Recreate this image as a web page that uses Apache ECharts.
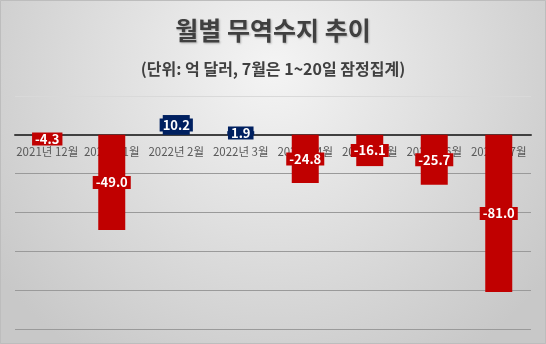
<!DOCTYPE html>
<html>
<head>
<meta charset="utf-8">
<script src="https://cdn.jsdelivr.net/npm/echarts@6/dist/echarts.min.js"></script>
<style>
  html, body { margin: 0; padding: 0; }
  #chart { width: 546px; height: 344px; }
</style>
</head>
<body>
<div id="chart"></div>
<script>
// Monthly trade balance (unit: 100 million USD)
const months = ['2021년 12월', '2022년 1월', '2022년 2월', '2022년 3월', '2022년 4월', '2022년 5월', '2022년 6월', '2022년 7월'];
const balance = [-4.3, -49.0, 10.2, 1.9, -24.8, -16.1, -25.7, -81.0];
const yMin = -100, yMax = 20, yStep = 20;

const RED = '#c00000';
const NAVY = '#002060';

const barData = balance.map(v => {
  const c = v < 0 ? RED : NAVY;
  return {
    value: v,
    itemStyle: { color: c },
    label: { backgroundColor: c }
  };
});

const W = 546, H = 344;
const grid = { left: 15, right: 15, top: 96, bottom: 15 };
// shift the category axis (line + labels) up to the zero value
const plotH = H - grid.top - grid.bottom;
const zeroOffset = -((0 - yMin) / (yMax - yMin)) * plotH;

const chart = echarts.init(document.getElementById('chart'));
chart.setOption({
  backgroundColor: {
    type: 'radial', x: 0.5, y: 0.2, r: 1.0,
    colorStops: [
      { offset: 0, color: '#f4f4f4' },
      { offset: 1, color: '#c8c8c8' }
    ]
  },
  title: {
    text: '월별 무역수지 추이',
    subtext: '(단위: 억 달러, 7월은 1~20일 잠정집계)',
    left: 'center',
    top: 13,
    itemGap: 18,
    textStyle: {
      fontFamily: 'Noto Sans CJK KR',
      fontSize: 25,
      fontWeight: 'bold',
      color: '#404040',
      textShadowColor: 'rgba(0,0,0,0.25)',
      textShadowBlur: 2,
      textShadowOffsetX: 1,
      textShadowOffsetY: 1
    },
    subtextStyle: {
      fontFamily: 'Noto Sans CJK KR',
      fontSize: 16,
      fontWeight: 'bold',
      color: '#404040'
    }
  },
  graphic: [{
    type: 'rect',
    shape: { x: 0.5, y: 0.5, width: W - 1, height: H - 1 },
    style: { fill: 'none', stroke: '#bdbdbd', lineWidth: 1 },
    silent: true
  }],
  grid: grid,
  xAxis: {
    type: 'category',
    data: months,
    offset: zeroOffset,
    axisLine: { onZero: false, lineStyle: { color: '#404040', width: 2 } },
    axisTick: { show: false },
    axisLabel: {
      interval: 0,
      margin: 11,
      fontFamily: 'Noto Sans CJK KR',
      fontSize: 11.5,
      color: '#595959'
    }
  },
  yAxis: {
    type: 'value',
    min: yMin,
    max: yMax,
    interval: yStep,
    axisLine: { show: false },
    axisTick: { show: false },
    axisLabel: { show: false },
    splitLine: {
      lineStyle: {
        color: ['#9a9a9a', '#9a9a9a', '#9a9a9a', '#9a9a9a', '#9a9a9a', '#9a9a9a', '#d9d9d9'],
        width: 1
      }
    }
  },
  series: [{
    type: 'bar',
    data: barData,
    barWidth: 27,
    label: {
      show: true,
      position: 'inside',
      formatter: p => p.value.toFixed(1),
      color: '#ffffff',
      fontFamily: 'Noto Sans CJK KR',
      fontSize: 13,
      fontWeight: 'bold',
      padding: [0, 3, 0, 3]
    }
  }]
});
</script>
</body>
</html>
